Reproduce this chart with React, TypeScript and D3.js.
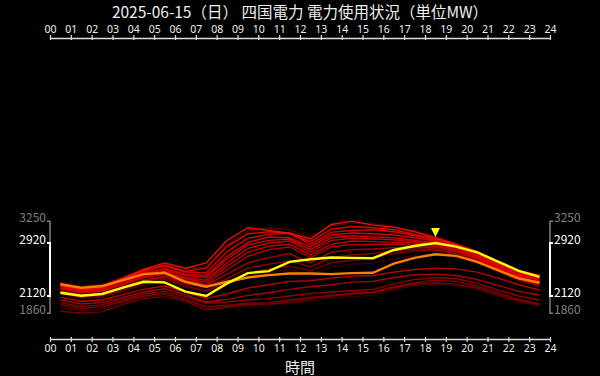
import * as d3 from 'd3';
import { useEffect, useRef } from 'react';

const width = 600;
const height = 376;
const font = '"Noto Sans CJK JP", "Noto Sans", sans-serif';
const tickFont = '"Noto Sans", sans-serif';

const title = '2025-06-15（日） 四国電力 電力使用状況（単位MW）';
const xTitle = '時間';

// data is hourly, plotted at the middle of each hour
const hours = [0.5, 1.5, 2.5, 3.5, 4.5, 5.5, 6.5, 7.5, 8.5, 9.5, 10.5, 11.5, 12.5, 13.5, 14.5, 15.5, 16.5, 17.5, 18.5, 19.5, 20.5, 21.5, 22.5, 23.5];
const hourTicks = [0, 1, 2, 3, 4, 5, 6, 7, 8, 9, 10, 11, 12, 13, 14, 15, 16, 17, 18, 19, 20, 21, 22, 23, 24];

const today = [2170, 2125, 2150, 2245, 2335, 2325, 2185, 2120, 2310, 2465, 2495, 2635, 2675, 2700, 2695, 2690, 2815, 2875, 2920, 2865, 2780, 2640, 2500, 2410];
const compareDay = [2295, 2245, 2270, 2360, 2450, 2470, 2335, 2260, 2335, 2400, 2435, 2460, 2460, 2450, 2465, 2470, 2610, 2695, 2750, 2725, 2635, 2510, 2385, 2320];

// past days, drawn in this order (faint first)
const pastD1 = [2140, 2080, 2100, 2190, 2280, 2330, 2250, 2180, 2300, 2420, 2470, 2520, 2450, 2560, 2600, 2620, 2680, 2730, 2750, 2710, 2620, 2480, 2350, 2260];
const pastD2 = [1950, 1900, 1920, 2020, 2100, 2140, 2060, 1940, 1960, 1980, 1990, 2010, 2050, 2090, 2110, 2130, 2210, 2280, 2300, 2280, 2220, 2120, 2030, 1970];
const pastD3 = [2330, 2260, 2290, 2410, 2530, 2600, 2520, 2560, 2900, 3100, 3150, 3120, 3000, 3180, 3220, 3210, 3170, 3100, 3020, 2920, 2800, 2650, 2510, 2440];
const pastB5 = [1890, 1860, 1880, 1990, 2080, 2110, 2040, 1910, 1950, 1990, 2000, 2030, 2080, 2120, 2150, 2170, 2240, 2300, 2320, 2300, 2240, 2140, 2050, 1990];
const pastB4 = [1990, 1930, 1960, 2040, 2120, 2160, 2070, 1960, 1980, 2010, 2020, 2060, 2100, 2130, 2160, 2180, 2260, 2320, 2360, 2340, 2270, 2170, 2070, 2000];
const pastB3 = [2020, 1960, 1990, 2070, 2150, 2190, 2110, 2010, 2030, 2060, 2080, 2120, 2160, 2180, 2200, 2220, 2300, 2370, 2400, 2380, 2310, 2210, 2120, 2060];
const pastM3 = [2160, 2100, 2120, 2210, 2310, 2370, 2270, 2200, 2320, 2470, 2530, 2570, 2500, 2620, 2660, 2700, 2760, 2800, 2810, 2760, 2650, 2500, 2360, 2270];
const pastM2 = [2185, 2125, 2145, 2240, 2340, 2400, 2300, 2250, 2380, 2540, 2600, 2650, 2560, 2700, 2740, 2760, 2800, 2830, 2830, 2770, 2660, 2510, 2370, 2280];
const pastM1 = [2200, 2140, 2160, 2260, 2360, 2420, 2330, 2280, 2450, 2620, 2700, 2760, 2620, 2780, 2820, 2830, 2850, 2860, 2850, 2790, 2680, 2530, 2390, 2300];
const pastB2 = [2060, 2000, 2020, 2100, 2180, 2230, 2140, 2030, 2070, 2130, 2170, 2220, 2260, 2290, 2330, 2340, 2400, 2440, 2450, 2430, 2370, 2280, 2190, 2135];
const pastB1 = [2100, 2040, 2060, 2140, 2220, 2270, 2180, 2080, 2150, 2240, 2290, 2340, 2350, 2390, 2420, 2430, 2480, 2520, 2540, 2530, 2480, 2390, 2290, 2210];
const pastL8 = [2230, 2170, 2190, 2290, 2390, 2450, 2360, 2300, 2520, 2720, 2820, 2860, 2700, 2860, 2900, 2900, 2900, 2890, 2870, 2800, 2690, 2540, 2400, 2320];
const pastL7 = [2240, 2180, 2200, 2300, 2410, 2470, 2380, 2330, 2570, 2780, 2870, 2900, 2740, 2900, 2950, 2940, 2930, 2920, 2890, 2820, 2700, 2550, 2410, 2330];
const pastL6 = [2250, 2190, 2210, 2320, 2430, 2490, 2400, 2360, 2620, 2840, 2920, 2950, 2780, 2960, 2990, 2980, 2970, 2940, 2910, 2840, 2720, 2560, 2420, 2350];
const pastL5 = [2270, 2200, 2230, 2340, 2450, 2510, 2430, 2400, 2680, 2890, 2960, 2980, 2820, 3000, 3030, 3010, 3000, 2960, 2930, 2850, 2730, 2580, 2430, 2360];
const pastL4 = [2280, 2210, 2240, 2360, 2470, 2535, 2450, 2430, 2720, 2930, 3010, 3000, 2860, 3040, 3070, 3060, 3040, 3000, 2950, 2860, 2740, 2590, 2440, 2370];
const pastL3 = [2305, 2235, 2260, 2385, 2505, 2570, 2480, 2470, 2790, 2990, 3050, 3070, 2900, 3080, 3110, 3120, 3090, 3030, 2970, 2880, 2760, 2610, 2460, 2390];
const pastL2 = [2290, 2225, 2250, 2370, 2490, 2590, 2490, 2540, 2870, 3060, 3090, 3060, 2940, 3130, 3170, 3150, 3120, 3050, 2990, 2890, 2770, 2620, 2480, 2400];
const pastL1 = [2310, 2240, 2270, 2390, 2520, 2620, 2540, 2620, 2960, 3150, 3110, 3070, 2980, 3200, 3250, 3190, 3160, 3090, 3000, 2900, 2790, 2640, 2500, 2430];

const pastDays = [pastD1, pastD2, pastD3, pastB5, pastB4, pastB3, pastM3, pastM2, pastM1, pastB2, pastB1, pastL8, pastL7, pastL6, pastL5, pastL4, pastL3, pastL2, pastL1];
const pastColors = ['#3d0000', '#450000', '#500000', '#800000', '#900000', '#a00000', '#8a0000', '#a50000', '#bb0000', '#c00000', '#d00000', '#c80000', '#d40000', '#dd0000', '#e60000', '#ee0000', '#f50000', '#ff0000', '#ff1500'];

export default function App() {
    const ref = useRef<SVGSVGElement>(null);

    useEffect(() => {
        if (!ref.current) return;
        const svg = d3.select(ref.current);
        svg.selectAll('*').remove();

        svg.append('rect').attr('width', width).attr('height', height).attr('fill', '#000');

        const x = d3.scaleLinear().domain([0, 24]).range([50, 550]);
        const y = d3.scaleLinear().domain([2120, 2920]).range([296, 243]);

        const line = d3
            .line<number>()
            .x((_, i) => x(hours[i]))
            .y((d) => y(d));

        // past days
        svg.append('g')
            .selectAll('path')
            .data(pastDays)
            .join('path')
            .attr('d', (d) => line(d))
            .attr('fill', 'none')
            .attr('stroke', (_, i) => pastColors[i])
            .attr('stroke-width', 1.4)
            .attr('stroke-opacity', 0.9);

        svg.append('path')
            .attr('d', line(compareDay))
            .attr('fill', 'none')
            .attr('stroke', '#ff8000')
            .attr('stroke-width', 2.4);

        svg.append('path')
            .attr('d', line(today))
            .attr('fill', 'none')
            .attr('stroke', '#ffff00')
            .attr('stroke-width', 2.4);

        // peak marker
        const peakIdx = d3.maxIndex(today);
        const px = x(hours[peakIdx]);
        const py = y(today[peakIdx]) - 6;
        svg.append('path')
            .attr('d', `M${px - 4.5},${py - 9}L${px + 4.5},${py - 9}L${px},${py}Z`)
            .attr('fill', '#ffff00');

        // x axes
        const fmt = (d: d3.NumberValue) => String(d).padStart(2, '0');
        const top = svg
            .append('g')
            .attr('transform', 'translate(0,38)')
            .call(d3.axisTop(x).tickValues(hourTicks).tickFormat(fmt).tickSize(3).tickSizeOuter(0).tickPadding(2));
        const bottom = svg
            .append('g')
            .attr('transform', 'translate(0,339)')
            .call(d3.axisBottom(x).tickValues(hourTicks).tickFormat(fmt).tickSize(3).tickSizeOuter(0).tickPadding(3));

        for (const g of [top, bottom]) {
            g.attr('font-family', tickFont).attr('font-size', 10.5);
            g.select('.domain').attr('stroke', '#ddd').attr('stroke-width', 1.5);
            g.selectAll('.tick line').attr('stroke', '#ddd').attr('stroke-width', 1.2);
            g.selectAll('.tick text').attr('fill', '#eee');
        }
        top.selectAll('.tick line').attr('y1', 2);
        bottom.selectAll('.tick line').attr('y1', -2);

        // y range brackets: all days and today
        const allMin = d3.min(pastDays.flat().concat(today)) ?? 0;
        const allMax = d3.max(pastDays.flat().concat(today)) ?? 0;
        const todayMin = d3.min(today) ?? 0;
        const todayMax = d3.max(today) ?? 0;

        const sides = [
            { ax: 50, dir: -1, anchor: 'end' },
            { ax: 550, dir: 1, anchor: 'start' },
        ];
        sides.forEach(({ ax, dir, anchor }) => {
            const g = svg.append('g').attr('font-family', font).attr('font-size', 12);
            g.append('path')
                .attr('d', `M${ax + dir * 3},${y(allMax)}H${ax}V${y(allMin)}H${ax + dir * 3}`)
                .attr('fill', 'none')
                .attr('stroke', '#808080')
                .attr('stroke-width', 1.5);
            g.append('path')
                .attr('d', `M${ax + dir * 3},${y(todayMax)}H${ax}V${y(todayMin)}H${ax + dir * 3}`)
                .attr('fill', 'none')
                .attr('stroke', '#fff')
                .attr('stroke-width', 2);

            const labels = [
                { v: allMax, c: '#808080' },
                { v: todayMax, c: '#fff' },
                { v: todayMin, c: '#fff' },
                { v: allMin, c: '#808080' },
            ];
            g.selectAll('text')
                .data(labels)
                .join('text')
                .attr('x', ax + dir * 4)
                .attr('y', (d) => y(d.v) + 1)
                .attr('text-anchor', anchor)
                .attr('fill', (d) => d.c)
                .text((d) => d.v);
        });

        svg.append('text')
            .attr('x', 300)
            .attr('y', 18)
            .attr('text-anchor', 'middle')
            .attr('font-family', font)
            .attr('font-size', 15.5)
            .attr('fill', '#eee')
            .text(title);

        svg.append('text')
            .attr('x', 300)
            .attr('y', 373)
            .attr('text-anchor', 'middle')
            .attr('font-family', font)
            .attr('font-size', 15)
            .attr('fill', '#eee')
            .text(xTitle);
    }, []);

    return (
        <svg
            ref={ref}
            width={width}
            height={height}
            style={{ position: 'fixed', left: 0, top: 0, display: 'block' }}
        />
    );
}
